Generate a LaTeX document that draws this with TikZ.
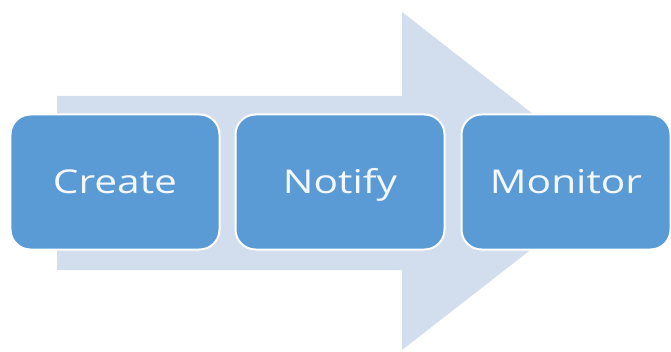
\documentclass[tikz,border=0pt]{standalone}
\usepackage{fontspec}
\setmainfont{Open Sans}[FakeStretch=1.24]
\usetikzlibrary{positioning}
\definecolor{stepblue}{HTML}{5B9BD5}
\definecolor{arrowfill}{HTML}{D2DDED}
\definecolor{steptext}{HTML}{F4F8FC}
\tikzset{
  stepbox/.style={draw=white, line width=0.6mm, fill=stepblue, rounded corners=0.6cm,
    minimum width=6.27cm, minimum height=4.05cm, text height=1.0cm, text depth=0.34cm,
    text=steptext, font=\fontsize{28}{34}\selectfont},
  bigarrow/.style={fill=arrowfill, draw=none}
}
\begin{document}
\begin{tikzpicture}
\useasboundingbox (0,0) rectangle (20.13,10.53);
% background arrow
\coordinate (tip) at (18.57,5.10);
\fill[bigarrow] (1.71,7.65) -- (12.06,7.65) -- (12.06,10.17) -- (tip) -- (12.06,0.03) -- (12.06,2.43) -- (1.71,2.43) -- cycle;
% steps
\node[stepbox] (create) at (3.45,5.07) {Create};
\node[stepbox, right=0.42cm of create] (notify) {Notify};
\node[stepbox, right=0.45cm of notify] (monitor) {Monitor};
\end{tikzpicture}
\end{document}
